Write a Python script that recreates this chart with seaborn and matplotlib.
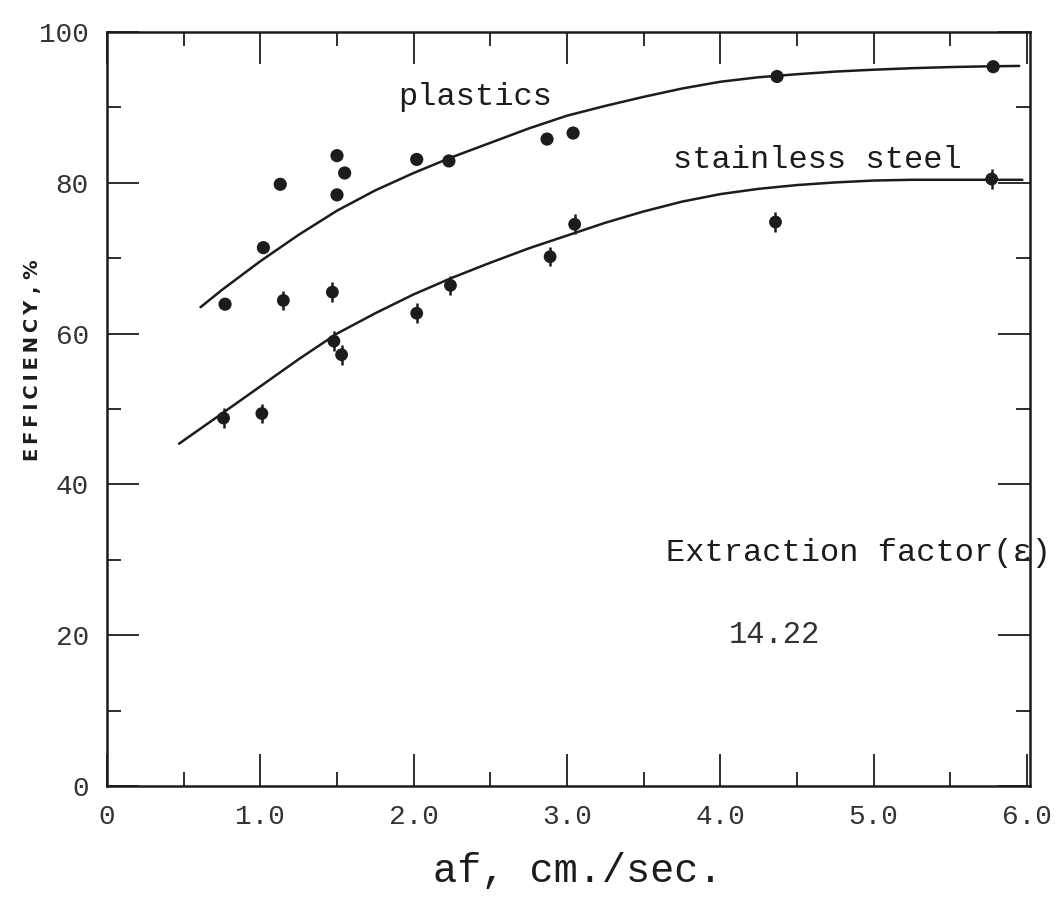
import matplotlib
matplotlib.use("Agg")
import matplotlib.pyplot as plt
import seaborn as sns

# ---- data ----
plastics_x = [0.77, 1.02, 1.13, 1.50, 1.55, 1.50, 2.02, 2.23, 2.87, 3.04, 4.37, 5.78]
plastics_y = [63.9, 71.4, 79.8, 83.6, 81.3, 78.4, 83.1, 82.9, 85.8, 86.6, 94.1, 95.4]

steel_x = [0.76, 1.01, 1.15, 1.47, 1.48, 1.53, 2.02, 2.24, 2.89, 3.05, 4.36, 5.77]
steel_y = [48.8, 49.4, 64.4, 65.5, 59.0, 57.2, 62.7, 66.4, 70.2, 74.5, 74.8, 80.5]
steel_err = [1.3] * 12

plastics_curve_x = [0.61, 0.75, 1.0, 1.25, 1.5, 1.75, 2.0, 2.25, 2.5, 2.75, 3.0, 3.25,
                    3.5, 3.75, 4.0, 4.25, 4.5, 4.75, 5.0, 5.25, 5.5, 5.75, 5.95]
plastics_curve_y = [63.5, 65.8, 69.6, 73.1, 76.3, 79.0, 81.3, 83.4, 85.3, 87.2, 88.9, 90.2,
                    91.4, 92.5, 93.4, 94.0, 94.4, 94.75, 95.0, 95.2, 95.35, 95.45, 95.5]

steel_curve_x = [0.47, 0.75, 1.0, 1.25, 1.5, 1.75, 2.0, 2.25, 2.5, 2.75, 3.0, 3.25,
                 3.5, 3.75, 4.0, 4.25, 4.5, 4.75, 5.0, 5.25, 5.5, 5.97]
steel_curve_y = [45.4, 49.4, 53.0, 56.6, 60.0, 62.7, 65.2, 67.4, 69.4, 71.3, 73.0, 74.7,
                 76.2, 77.5, 78.5, 79.2, 79.7, 80.05, 80.3, 80.4, 80.4, 80.4]

x_ticks = [0, 1, 2, 3, 4, 5, 6]
x_tick_labels = ["0", "1.0", "2.0", "3.0", "4.0", "5.0", "6.0"]
y_ticks = [0, 20, 40, 60, 80, 100]
y_tick_labels = ["0", "20", "40", "60", "80", "100"]

ink = "#1c1c1c"

sns.set_theme(style="white")
plt.rcParams["font.family"] = ["Liberation Mono", "DejaVu Sans"]

fig = plt.figure(figsize=(10.61, 9.11), dpi=100)
ax = fig.add_axes([107 / 1061, 1 - 786 / 911, (1030 - 107) / 1061, (786 - 32) / 911])

sns.lineplot(x=plastics_curve_x, y=plastics_curve_y, color=ink, lw=1.8, ax=ax, sort=True)
sns.lineplot(x=steel_curve_x, y=steel_curve_y, color=ink, lw=1.8, ax=ax, sort=True)

ax.errorbar(steel_x, steel_y, yerr=steel_err, fmt="none", ecolor=ink, elinewidth=1.8, capsize=0)

sns.scatterplot(x=plastics_x, y=plastics_y, color=ink, s=90, edgecolor="none", ax=ax, zorder=5)
sns.scatterplot(x=steel_x, y=steel_y, color=ink, s=85, edgecolor="none", ax=ax, zorder=5)

ax.set_xlim(0, 6.02)
ax.set_ylim(0, 100)

ax.set_xticks(x_ticks)
ax.set_xticklabels(x_tick_labels)
ax.set_yticks(y_ticks)
ax.set_yticklabels(y_tick_labels)
ax.set_xticks([0.5, 1.5, 2.5, 3.5, 4.5, 5.5], minor=True)
ax.set_yticks([10, 30, 50, 70, 90], minor=True)

ax.tick_params(which="major", direction="in", top=True, right=True, bottom=True, left=True,
               length=23, width=1.3, color=ink, labelsize=20, labelcolor="#333333", pad=13)
ax.tick_params(which="minor", direction="in", top=True, right=True, bottom=True, left=True,
               length=10, width=1.3, color=ink)

for sp in ax.spines.values():
    sp.set_color(ink)
    sp.set_linewidth(1.8)

ax.set_xlabel("af, cm./sec.", fontsize=29, color=ink)
ax.xaxis.set_label_coords(0.51, -0.088)
ax.set_ylabel("E\u2009F\u2009F\u2009I\u2009C\u2009I\u2009E\u2009N\u2009C\u2009Y , %", fontsize=14,
              fontweight="bold", family="DejaVu Sans", color=ink)
ax.yaxis.set_label_coords(-0.070, 0.565)

ax.text(2.40, 91.4, "plastics", fontsize=23, color=ink, ha="center", va="center")
ax.text(4.63, 83.0, "stainless steel", fontsize=23, color=ink, ha="center", va="center")
ax.text(4.90, 30.9, "Extraction factor(ε)", fontsize=23, color=ink, ha="center", va="center")
ax.text(4.35, 20.0, "14.22", fontsize=22, color="#333333", ha="center", va="center")

fig.savefig("out.png", dpi=100, facecolor="white")
